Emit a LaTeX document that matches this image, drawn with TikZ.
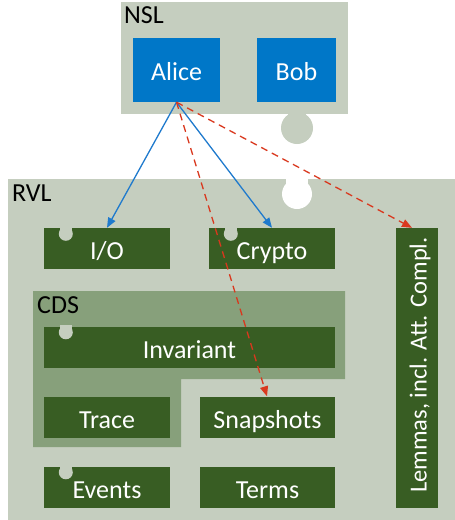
\documentclass[tikz,border=0pt]{standalone}
\usepackage{fontspec}
\setmainfont{Carlito}
\usepackage{xcolor}
\usetikzlibrary{arrows.meta}

\definecolor{layer}{HTML}{C5CEBF}
\definecolor{cds}{HTML}{87A07B}
\definecolor{mod}{HTML}{385D23}
\definecolor{party}{HTML}{0077C8}
\definecolor{uses}{HTML}{1F7ACD}
\definecolor{needs}{HTML}{D9381E}

\tikzset{
	partybox/.style={fill=party, text=white, inner sep=0pt, text height=21pt, text depth=0pt, minimum width=87pt, minimum height=64pt},
	modbox/.style={fill=mod, text=white, inner sep=0pt, text height=22pt, text depth=0pt, minimum height=41pt},
	title/.style={anchor=north west, inner sep=0pt},
	uselink/.style={draw=uses, line width=1.3pt, -{Triangle[length=10pt,width=8pt]}},
	needlink/.style={draw=needs, line width=1.3pt, dash pattern=on 7pt off 5pt, -{Triangle[length=10pt,width=8pt]}}
}

\begin{document}
\begin{tikzpicture}[x=1pt, y=-1pt, font=\fontsize{26}{29}\selectfont]
		\useasboundingbox (0,0) rectangle (455,520);
		% NSL layer with its tab
		\fill[layer] (121,2) rectangle (348,114);
		\fill[layer] (288,110) rectangle (306,122);
		\fill[layer] (297,128) circle (16);
		\node[title] (nsl) at (124,6) {NSL};
		% RVL layer with its slot
		\fill[layer] (8,179) rectangle (455,520);
		\fill[white] (286,178) rectangle (308,190);
		\fill[white] (297,194) circle (15);
		\node[title] (rvl) at (12,185) {RVL};
		% CDS part
		\fill[cds] (33,291) -- (345,291) -- (345,379) -- (181,379) -- (181,447) -- (33,447) -- cycle;
		\node[title] (cdsname) at (37,296) {CDS};
		% parties
		\node[partybox] (alice) at (176.5,70) {Alice};
		\node[partybox, minimum width=79pt] (bob) at (296.5,70) {Bob};
		% modules
		\node[modbox, minimum width=126pt] (io) at (107,248.5) {I/O};
		\node[modbox, minimum width=126pt] (crypto) at (272,248.5) {Crypto};
		\node[modbox, minimum width=291pt] (invariant) at (189.5,347) {Invariant};
		\node[modbox, minimum width=126pt] (trace) at (107,417) {Trace};
		\node[modbox, minimum width=135pt] (snapshots) at (267.5,417) {Snapshots};
		\node[modbox, minimum width=126pt] (events) at (107,487) {Events};
		\node[modbox, minimum width=135pt] (terms) at (267.5,487) {Terms};
		\node[modbox, minimum width=42pt, minimum height=280pt] (lemmas) at (417,368) {};
		\node[rotate=90, text=white, inner sep=0pt, text height=21pt, text depth=0pt, font=\fontsize{24.5}{28}\selectfont] (lemmastext) at ([xshift=-1pt,yshift=3pt]lemmas.center) {Lemmas, incl. Att. Compl.};
		% slots in the modules
		\foreach \m in {io, crypto, invariant, events} {
			\fill[layer] ([xshift=16pt,yshift=1pt]\m.north west) rectangle ([xshift=28pt,yshift=-5pt]\m.north west);
			\fill[layer] ([xshift=22pt,yshift=-6pt]\m.north west) circle (7);
		}
		% dependencies
		\draw[uselink] (alice.south) -- (io.north);
		\draw[uselink] (alice.south) -- (crypto.north);
		\draw[needlink] (alice.south) -- ([xshift=-0.5pt]snapshots.north);
		\draw[needlink] (alice.south) -- ([xshift=-5pt]lemmas.north);
	\end{tikzpicture}
\end{document}
